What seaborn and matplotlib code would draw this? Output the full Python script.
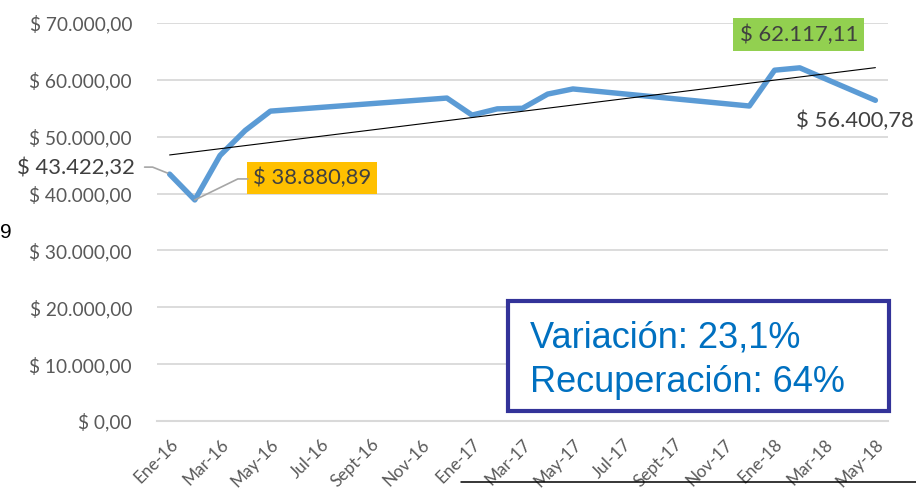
import numpy as np
import pandas as pd
import matplotlib
matplotlib.use("Agg")
import matplotlib.pyplot as plt
from matplotlib.lines import Line2D
from matplotlib.patches import Rectangle
import seaborn as sns

# Monthly values (only the months that were recorded)
months = ["2016-01", "2016-02", "2016-03", "2016-04", "2016-05",
          "2016-12", "2017-01", "2017-02", "2017-03", "2017-04", "2017-05",
          "2017-12", "2018-01", "2018-02", "2018-05"]
values = [43422.32, 38880.89, 46700, 51100, 54500,
          56800, 53800, 54900, 55000, 57500, 58400,
          55400, 61700, 62117.11, 56400.78]
tick_labels = ["Ene-16", "Mar-16", "May-16", "Jul-16", "Sept-16", "Nov-16",
               "Ene-17", "Mar-17", "May-17", "Jul-17", "Sept-17", "Nov-17",
               "Ene-18", "Mar-18", "May-18"]
y_ticks = [0, 10000, 20000, 30000, 40000, 50000, 60000, 70000]
summary_lines = ["Variación: 23,1%", "Recuperación: 64%"]

sns.set_style("white")
plt.rcParams["font.family"] = ["Lato", "DejaVu Sans"]

dates = pd.to_datetime(months)
start = dates[0]
month_idx = np.array([(d.year - start.year) * 12 + d.month - start.month for d in dates])
df = pd.DataFrame({"mes": month_idx, "valor": values})

W, H = 916, 493
fig = plt.figure(figsize=(W / 100, H / 100), dpi=100)
ax = fig.add_axes([157 / W, 1 - 421 / H, (888 - 157) / W, (421 - 23) / H])

sns.lineplot(data=df, x="mes", y="valor", ax=ax, color="#5B9BD5", lw=3.9,
             solid_joinstyle="round", solid_capstyle="round", zorder=3)
sns.regplot(data=df, x="mes", y="valor", ax=ax, scatter=False, ci=None, truncate=True,
            line_kws=dict(color="black", lw=0.8, zorder=4))

ax.set_xlim(-0.5, 28.5)
ax.set_ylim(0, 70000)
ax.set_xlabel("")
ax.set_ylabel("")

def money(v, decimals=2):
    s = f"{v:,.{decimals}f}"
    s = s.replace(",", "X").replace(".", ",").replace("X", ".")
    return "$ " + s

ax.set_yticks(y_ticks)
ax.set_yticklabels([money(v) for v in y_ticks])
ax.tick_params(axis="y", length=0, pad=18, labelsize=13.8, labelcolor="#595959")
ax.yaxis.grid(True, color="#D9D9D9", lw=1.3)
ax.set_axisbelow(True)

ax.set_xticks(np.arange(-0.5, 28, 2))
ax.set_xticklabels([])
ax.set_xticks(np.arange(0, 29, 2), minor=True)
ax.set_xticklabels(tick_labels, minor=True)
ax.tick_params(axis="x", which="major", length=3.6, width=1.2, color="#D9D9D9", direction="out")
ax.tick_params(axis="x", which="minor", length=0, pad=11, labelsize=12.3, labelcolor="#595959")
for lab in ax.get_xticklabels(minor=True):
    lab.set_rotation(45)
    lab.set_ha("right")
    lab.set_va("top")
    lab.set_rotation_mode("anchor")

for side in ["top", "right", "left"]:
    ax.spines[side].set_visible(False)
ax.spines["bottom"].set_color("#D9D9D9")
ax.spines["bottom"].set_linewidth(1.5)

# Data labels
lbl = dict(textcoords="offset pixels", fontsize=15.8, color="#404040", va="center", zorder=6)
i0, imin, imax, ilast = 0, int(np.argmin(values)), int(np.argmax(values)), len(values) - 1
ax.annotate(money(values[i0]), (month_idx[i0], values[i0]), xytext=(-35, 6), ha="right", **lbl)
ax.annotate(money(values[imin]), (month_idx[imin], values[imin]), xytext=(58, 22), ha="left",
            bbox=dict(boxstyle="square,pad=0.28", fc="#FFC000", ec="none"), **lbl)
ax.annotate(money(values[imax]), (month_idx[imax], values[imax]), xytext=(-1, 33), ha="center",
            bbox=dict(boxstyle="square,pad=0.28", fc="#92D050", ec="none"), **lbl)
ax.annotate(money(values[ilast]), (month_idx[ilast], values[ilast]), xytext=(-79, -21), ha="left", **lbl)

# Leader lines from labels to their points (pixel offsets)
def leader(i, offsets):
    px, py = ax.transData.transform((month_idx[i], values[i]))
    pts = np.array([(px + dx, py + dy) for dx, dy in offsets])
    fpts = fig.transFigure.inverted().transform(pts)
    fig.add_artist(Line2D(fpts[:, 0], fpts[:, 1], color="#A6A6A6", lw=1.2, zorder=5))

leader(i0, [(-25, 7), (-17, 7), (-2, 1)])
leader(imin, [(0, 0), (43, 21), (53, 21)])

# Summary box
fig.add_artist(Rectangle((508 / W, 1 - 411 / H), (889 - 508) / W, (411 - 301) / H,
                         transform=fig.transFigure, fc="white", ec="#333399", lw=3.0, zorder=10))
fig.text(530 / W, 1 - 347 / H, summary_lines[0], fontsize=26, color="#0070C0",
         family=["Liberation Sans", "DejaVu Sans"], va="baseline", zorder=11)
fig.text(530 / W, 1 - 392 / H, summary_lines[1], fontsize=26, color="#0070C0",
         family=["Liberation Sans", "DejaVu Sans"], va="baseline", zorder=11)

# Stray slide elements around the chart
fig.text(0, 1 - 232 / H, "9", fontsize=15, color="black", va="center", ha="left",
         family=["Liberation Sans", "DejaVu Sans"])
fig.add_artist(Line2D([461 / W, 1.0], [1 - 482 / H, 1 - 482 / H], color="black", lw=1.1))

fig.savefig("out.png", dpi=100)
